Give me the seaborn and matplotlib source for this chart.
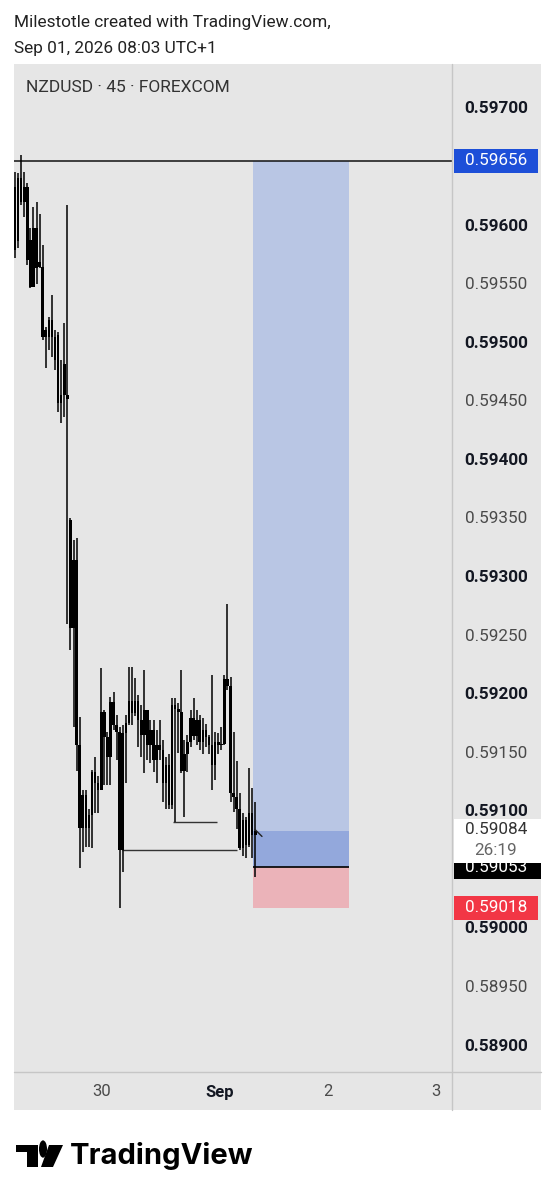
import numpy as np
import pandas as pd
import seaborn as sns
import matplotlib.pyplot as plt
from matplotlib.patches import Rectangle, Circle, Polygon
from matplotlib.lines import Line2D
from matplotlib.transforms import blended_transform_factory

# NZDUSD 45m candles, prices in units of 0.00001
opens = [59633, 59587, 59641, 59621, 59633, 59588, 59548, 59598, 59569, 59565,
         59511, 59505, 59520, 59505, 59507, 59449, 59482, 59456, 59349, 59257,
         59315, 59157, 59086, 59114, 59086, 59097, 59134, 59125, 59119, 59185,
         59164, 59147, 59194, 59174, 59168, 59067, 59167, 59176, 59195, 59184,
         59195, 59178, 59166, 59187, 59157, 59170, 59144, 59157, 59153, 59125,
         59140, 59106, 59191, 59188, 59185, 59135, 59149, 59160, 59180, 59165,
         59178, 59160, 59170, 59164, 59157, 59140, 59160, 59157, 59158, 59213,
         59207, 59116, 59113, 59102, 59069, 59093, 59072, 59099, 59080]
highs = [59646, 59645, 59661, 59646, 59637, 59598, 59616, 59621, 59610, 59584,
         59514, 59522, 59541, 59511, 59510, 59486, 59517, 59618, 59351, 59332,
         59334, 59181, 59119, 59119, 59102, 59136, 59147, 59131, 59223, 59187,
         59168, 59198, 59202, 59183, 59172, 59174, 59183, 59224, 59224, 59214,
         59200, 59191, 59221, 59187, 59178, 59178, 59170, 59178, 59161, 59147,
         59149, 59197, 59197, 59193, 59221, 59161, 59166, 59187, 59197, 59187,
         59183, 59180, 59175, 59166, 59217, 59168, 59167, 59172, 59217, 59277,
         59215, 59168, 59143, 59116, 59099, 59096, 59137, 59120, 59108]
lows = [59573, 59581, 59618, 59608, 59567, 59547, 59548, 59551, 59564, 59503,
        59479, 59494, 59488, 59477, 59441, 59432, 59437, 59260, 59238, 59172,
        59135, 59052, 59066, 59070, 59070, 59069, 59099, 59099, 59119, 59123,
        59123, 59123, 59170, 59144, 59018, 59049, 59125, 59174, 59174, 59182,
        59155, 59147, 59133, 59144, 59142, 59134, 59125, 59144, 59108, 59102,
        59102, 59102, 59091, 59150, 59133, 59096, 59134, 59155, 59161, 59157,
        59153, 59149, 59155, 59149, 59119, 59127, 59149, 59153, 59157, 59204,
        59108, 59100, 59085, 59067, 59062, 59061, 59070, 59061, 59044]
closes = [59580, 59641, 59621, 59633, 59571, 59548, 59598, 59564, 59565, 59505,
          59505, 59520, 59505, 59486, 59449, 59456, 59456, 59452, 59257, 59315,
          59157, 59086, 59114, 59086, 59097, 59134, 59125, 59119, 59185, 59164,
          59147, 59194, 59174, 59168, 59067, 59167, 59176, 59195, 59184, 59195,
          59178, 59166, 59187, 59157, 59170, 59144, 59157, 59153, 59125, 59140,
          59106, 59191, 59188, 59185, 59135, 59149, 59160, 59180, 59165, 59178,
          59160, 59170, 59164, 59157, 59140, 59160, 59157, 59158, 59213, 59207,
          59116, 59113, 59102, 59069, 59093, 59072, 59099, 59080, 59084]

# visible price scale labels (0.59650 and 0.59050 sit under the badges)
price_ticks = [0.58900, 0.58950, 0.59000, 0.59100, 0.59150, 0.59200,
               0.59250, 0.59300, 0.59350, 0.59400, 0.59450, 0.59500, 0.59550,
               0.59600, 0.59700]
time_ticks = [28.2, 66.6, 101.6, 136.7]
time_labels = ["30", "Sep", "2", "3"]

resistance = 0.59656
entry = 0.59053
take_profit = 0.59656
stop_loss = 0.59018
last_price = 0.59084
countdown = "26:19"
pos_start, pos_end = 77.3, 108.4
# (bar from, bar to, price)
range_lines = [(34.7, 72.1, 0.59067), (51.3, 65.6, 0.59091)]

df = pd.DataFrame({"o": opens, "h": highs, "l": lows, "c": closes}) * 1e-5
df["i"] = np.arange(len(df))

sns.set_theme(style="white")
plt.rcParams['font.family'] = ['Roboto', 'DejaVu Sans']

W, H = 556, 1200
def fx(px): return px / W
def fy(py): return 1 - py / H

BG = "#e6e6e6"
fig = plt.figure(figsize=(W / 100, H / 100), dpi=100)
fig.patch.set_facecolor("white")
fig.add_artist(Rectangle((fx(14), fy(1110)), fx(541) - fx(14), fy(64) - fy(1110),
                         transform=fig.transFigure, color=BG, lw=0, zorder=-1))

ax = fig.add_axes([fx(14), fy(1072), fx(452) - fx(14), fy(64) - fy(1072)])
ax.set_facecolor(BG)
ymin, ymax = 0.588779, 0.597384
def dh(px): return px * (ymax - ymin) / 1008

# position tool
ax.add_patch(Rectangle((pos_start, last_price), pos_end - pos_start, take_profit - last_price,
                       color="#b9c6e4", lw=0, zorder=1))
ax.add_patch(Rectangle((pos_start, entry), pos_end - pos_start, last_price - entry,
                       color="#93a8dc", lw=0, zorder=1))
ax.add_patch(Rectangle((pos_start, stop_loss), pos_end - pos_start, entry - stop_loss,
                       color="#ebb3b9", lw=0, zorder=1))
ax.hlines(entry, pos_start, pos_end, color="black", lw=1.2, zorder=4)

ax.axhline(resistance, color="#111111", lw=1.1, zorder=2)
for x0, x1, y in range_lines:
    ax.hlines(y, x0, x1, color="#333333", lw=1.0, zorder=2)

# candles
ax.vlines(df["i"], df["l"], df["h"], color="black", lw=1.1, zorder=3)
body_lo = df[["o", "c"]].min(axis=1)
body_h = (df["o"] - df["c"]).abs().clip(lower=0.000012)
ax.bar(df["i"], body_h, bottom=body_lo, width=0.85, color="black", lw=0, zorder=3)
ax.plot([df["i"].iloc[-1] - 0.1, df["i"].iloc[-1] + 2.2], [last_price + 0.00001, last_price - 0.00005],
        color="#222222", lw=1.0, zorder=4)

# price scale
ty = blended_transform_factory(fig.transFigure, ax.transData)
for p in price_ticks:
    major = round(p * 1e5) % 100 == 0
    ax.text(fx(496), p, f"{p:.5f}", transform=ty, ha="center", va="center", fontsize=12.3,
            fontweight="bold" if major else "normal",
            color="#131722" if major else "#4a4a4a", clip_on=False, zorder=4)

ax.add_patch(Rectangle((fx(454), resistance - dh(12)), fx(538) - fx(454), dh(24), transform=ty,
                       color="#1d4fd8", lw=0, clip_on=False, zorder=5))
ax.text(fx(496), resistance, f"{resistance:.5f}", transform=ty, ha="center", va="center",
        fontsize=12.3, color="white", clip_on=False, zorder=6)

ax.add_patch(Rectangle((fx(454), entry - dh(12)), fx(541) - fx(454), dh(22), transform=ty,
                       color="black", lw=0, clip_on=False, zorder=5))
ax.text(fx(496), entry - dh(1), f"{entry:.5f}", transform=ty, ha="center", va="center",
        fontsize=12.3, color="white", clip_on=False, zorder=6)

ax.add_patch(Rectangle((fx(454), last_price - dh(32)), fx(541) - fx(454), dh(44), transform=ty,
                       color="white", lw=0, clip_on=False, zorder=7))
ax.text(fx(496), last_price + dh(1), f"{last_price:.5f}", transform=ty, ha="center", va="center",
        fontsize=12.3, color="#333333", clip_on=False, zorder=8)
ax.text(fx(496), last_price - dh(20), countdown, transform=ty, ha="center", va="center",
        fontsize=12.3, color="#666666", clip_on=False, zorder=8)

ax.add_patch(Rectangle((fx(454), stop_loss - dh(12)), fx(538) - fx(454), dh(24), transform=ty,
                       color="#f23645", lw=0, clip_on=False, zorder=5))
ax.text(fx(496), stop_loss, f"{stop_loss:.5f}", transform=ty, ha="center", va="center",
        fontsize=12.3, color="white", clip_on=False, zorder=6)

# time scale
tx = blended_transform_factory(ax.transData, fig.transFigure)
for pos, lab in zip(time_ticks, time_labels):
    ax.text(pos, fy(1092), lab, transform=tx, ha="center", va="center", fontsize=12,
            fontweight="bold" if lab == "Sep" else "normal",
            color="#131722" if lab == "Sep" else "#4a4a4a", clip_on=False)

ax.set_xlim(-0.32, 141.9)
ax.set_ylim(ymin, ymax)
ax.set_xticks([])
ax.set_yticks([])
for s in ax.spines.values():
    s.set_visible(False)

fig.add_artist(Line2D([fx(452), fx(452)], [fy(64), fy(1110)], transform=fig.transFigure,
                      color="#c6c6c6", lw=1))
fig.add_artist(Line2D([fx(14), fx(541)], [fy(1072), fy(1072)], transform=fig.transFigure,
                      color="#c6c6c6", lw=1))

# header
fig.text(fx(14), fy(23), "Milestotle created with TradingView.com,", fontsize=12.4,
         color="#222222", va="center")
fig.text(fx(14), fy(48), "Sep 01, 2026 08:03 UTC+1", fontsize=12.4, color="#222222", va="center")
fig.text(fx(26), fy(87), "NZDUSD · 45 · FOREXCOM", fontsize=12.5, color="#333333", va="center")

# logo
fig.add_artist(Rectangle((fx(16), fy(1152)), fx(38) - fx(16), fy(1145) - fy(1152),
                         transform=fig.transFigure, color="black", lw=0))
fig.add_artist(Rectangle((fx(27), fy(1167)), fx(38) - fx(27), fy(1145) - fy(1167),
                         transform=fig.transFigure, color="black", lw=0))
fig.add_artist(Circle((fx(43), fy(1149)), fx(4), transform=fig.transFigure, color="black", lw=0))
fig.add_artist(Polygon([(fx(49), fy(1145)), (fx(63), fy(1145)), (fx(53), fy(1167)), (fx(41), fy(1167))],
                       closed=True, transform=fig.transFigure, color="black", lw=0))
fig.text(fx(70), fy(1156), "TradingView", fontsize=21, fontweight="bold",
         family=["Inter", "DejaVu Sans"], color="black", va="center")

fig.savefig("out.png", dpi=100)
